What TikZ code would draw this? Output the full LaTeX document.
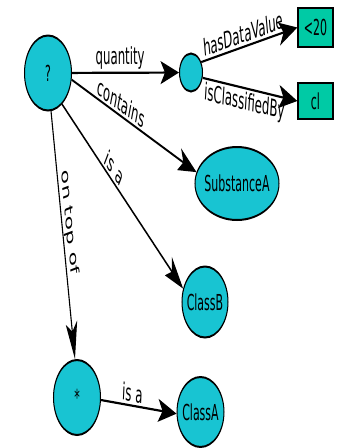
\documentclass[tikz,border=0pt]{standalone}
\usepackage{fontspec}
\setmainfont{DejaVu Sans}
\usetikzlibrary{arrows.meta,shapes.geometric}
\definecolor{nodecyan}{RGB}{24,196,210}
\definecolor{boxteal}{RGB}{0,202,165}
\tikzset{
  every node/.style={font=\fontsize{22}{26}\selectfont},
  concept/.style={ellipse, draw=black, line width=2pt, fill=nodecyan, inner sep=0pt},
  literal/.style={rectangle, draw=black, line width=2.6pt, fill=boxteal, inner sep=0pt, minimum width=70pt},
  rel/.style={-{Stealth[length=37pt,width=23pt,inset=9pt]}, line width=2.2pt},
  lbl/.style={sloped, inner sep=2.5pt, font=\fontsize{23.5}{28}\selectfont}
}
\begin{document}
\begin{tikzpicture}[x=1pt,y=-1pt]
\useasboundingbox (0,0) rectangle (342,448);
\fill[white] (0,0) rectangle (342,448);
% the graph is laid out wide and set horizontally condensed
\begin{scope}[transform canvas={xscale=0.5}]
  \node[concept, minimum width=94pt, minimum height=75pt] (q) at (96,73) {?};
  \node[concept, minimum width=46pt, minimum height=38pt] (m) at (382,72.5) {};
  \node[literal, minimum height=39pt] (v20) at (631,27.5) {<20};
  \node[literal, minimum height=36pt] (cl) at (631,101) {cl};
  \node[concept, minimum width=168pt, minimum height=73pt] (substA) at (474,183.5) {\makebox[0pt]{SubstanceA}};
  \node[concept, minimum width=92pt, minimum height=71pt] (classB) at (410,302) {\makebox[0pt]{ClassB}};
  \node[concept, minimum width=94pt, minimum height=75pt] (star) at (154,397.5) {*};
  \node[concept, minimum width=94pt, minimum height=70pt] (classA) at (401,412) {\makebox[0pt]{ClassA}};

  \draw[rel] (q) -- node[lbl, above, pos=0.45] {quantity} (m);
  \draw[rel] (m.27) -- node[lbl, above, pos=0.45] {hasDataValue} (v20.west);
  \draw[rel] (m.-13) -- node[lbl, below, pos=0.45] {isClassifiedBy} (cl.west);
  \draw[rel] (q.-8) -- node[lbl, above, pos=0.38] {contains} (substA.172);
  \draw[rel] (q.-48) -- node[lbl, above, pos=0.4] {is a} (classB.163);
  \draw[rel] (q.-81) -- node[lbl, above, pos=0.46] {on top of} (star.96);
  \draw[rel] (star.-3) -- node[lbl, above, pos=0.41] {is a} (classA.182);
\end{scope}
\end{tikzpicture}
\end{document}
